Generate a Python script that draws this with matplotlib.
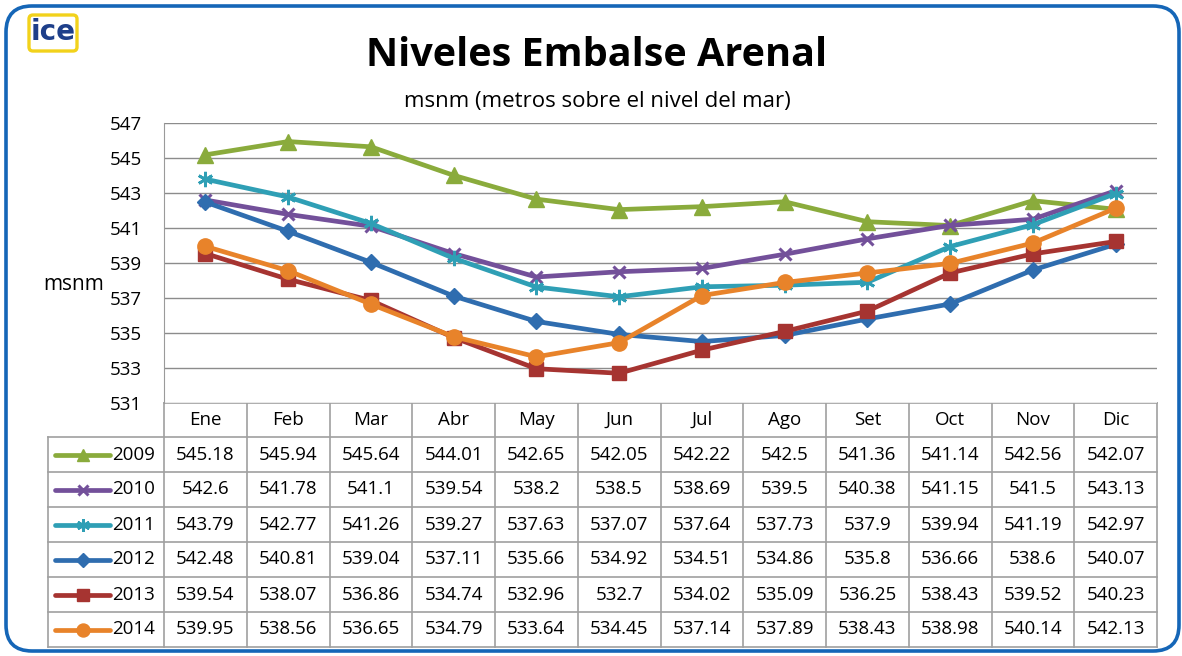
import matplotlib
matplotlib.use("Agg")
import matplotlib.pyplot as plt
from matplotlib.patches import FancyBboxPatch

plt.rcParams['font.family'] = ['Open Sans', 'DejaVu Sans']

months = ["Ene", "Feb", "Mar", "Abr", "May", "Jun", "Jul", "Ago", "Set", "Oct", "Nov", "Dic"]
years = ["2009", "2010", "2011", "2012", "2013", "2014"]
v2009 = [545.18, 545.94, 545.64, 544.01, 542.65, 542.05, 542.22, 542.5, 541.36, 541.14, 542.56, 542.07]
v2010 = [542.6, 541.78, 541.1, 539.54, 538.2, 538.5, 538.69, 539.5, 540.38, 541.15, 541.5, 543.13]
v2011 = [543.79, 542.77, 541.26, 539.27, 537.63, 537.07, 537.64, 537.73, 537.9, 539.94, 541.19, 542.97]
v2012 = [542.48, 540.81, 539.04, 537.11, 535.66, 534.92, 534.51, 534.86, 535.8, 536.66, 538.6, 540.07]
v2013 = [539.54, 538.07, 536.86, 534.74, 532.96, 532.7, 534.02, 535.09, 536.25, 538.43, 539.52, 540.23]
v2014 = [539.95, 538.56, 536.65, 534.79, 533.64, 534.45, 537.14, 537.89, 538.43, 538.98, 540.14, 542.13]
series = [v2009, v2010, v2011, v2012, v2013, v2014]
yticks = [531, 533, 535, 537, 539, 541, 543, 545, 547]

colors = ["#8AAB3C", "#73509A", "#2F9FB5", "#2F6DAF", "#A63431", "#E8832A"]
markers = ["^", "x", (6, 2, 0), "D", "s", "o"]
msizes = [11, 9, 11, 8, 10, 11]
mew = [1, 2.2, 2.0, 1, 1, 1]

W, H = 1182, 656
fig = plt.figure(figsize=(W / 100, H / 100), dpi=100)
fig.patch.set_facecolor("white")

L, R, T, B = 164, 1157, 123, 403
ax = fig.add_axes([L / W, 1 - B / H, (R - L) / W, (B - T) / H])
ax.set_xlim(0, 12)
ax.set_ylim(531, 547)
ax.set_yticks(yticks)
ax.set_yticklabels([str(t) for t in yticks], fontsize=13.5)
ax.set_xticks([])
ax.tick_params(axis="y", length=0, pad=16)
for s in ["top", "right", "bottom"]:
    ax.spines[s].set_visible(False)
ax.spines["left"].set_color("#9a9a9a")
ax.yaxis.grid(True, color="#8c8c8c", linewidth=1)
ax.set_axisbelow(True)
xs = [i + 0.5 for i in range(12)]
for vals, c, m, ms, mw in zip(series, colors, markers, msizes, mew):
    ax.plot(xs, vals, color=c, linewidth=3.4, marker=m, markersize=ms,
            markeredgewidth=mw, markeredgecolor=c, markerfacecolor=c, zorder=3)
ax.set_ylabel("msnm", fontsize=15, rotation=0, labelpad=0, ha="center", va="center")
ax.yaxis.set_label_coords((74 - L) / (R - L), (B - 285) / (B - T))

# overlay in pixel coordinates
ov = fig.add_axes([0, 0, 1, 1], zorder=-1)
ov.set_xlim(0, W)
ov.set_ylim(H, 0)
ov.axis("off")

border = FancyBboxPatch((6, 6), 1173, 645, boxstyle="round,pad=0,rounding_size=26",
                        linewidth=2.6, edgecolor="#1566B7", facecolor="none")
ov.add_patch(border)

# logo
logo = FancyBboxPatch((29, 15), 48, 36, boxstyle="round,pad=0,rounding_size=4",
                      linewidth=2.4, edgecolor="#F2D21B", facecolor="white")
ov.add_patch(logo)
ov.text(53, 32, "ice", fontsize=20, color="#1E3F8A", ha="center", va="center",
        family="DejaVu Sans", fontweight="bold")

fig.text(597 / W, 1 - 55 / H, "Niveles Embalse Arenal", fontsize=28.5, fontweight="bold",
         ha="center", va="center")
fig.text(597 / W, 1 - 101 / H, "msnm (metros sobre el nivel del mar)", fontsize=16,
         ha="center", va="center")

# data table
gc = "#a0a0a0"
fs = 13.5
colw = (R - L) / 12
rows = [437 + 35 * j for j in range(7)]
ov.plot([L, R], [B, B], color=gc, lw=1.2)
for y in rows:
    ov.plot([48, R], [y, y], color=gc, lw=1.2)
for k in range(13):
    x = L + k * colw
    ov.plot([x, x], [B, rows[-1]], color=gc, lw=1.2)
ov.plot([48, 48], [rows[0], rows[-1]], color=gc, lw=1.2)
for i, mth in enumerate(months):
    ov.text(L + (i + 0.5) * colw, (B + rows[0]) / 2, mth, fontsize=fs,
            ha="center", va="center")
for j, (yr, vals, c, m, ms, mw) in enumerate(zip(years, series, colors, markers, msizes, mew)):
    yc = (rows[j] + rows[j + 1]) / 2
    ov.plot([55, 110], [yc, yc], color=c, lw=3.4, solid_capstyle="round")
    ov.plot([82.5], [yc], marker=m, markersize=ms * 0.85, color=c,
            markeredgewidth=mw, markeredgecolor=c)
    ov.text(112, yc, yr, fontsize=fs, ha="left", va="center")
    for i, v in enumerate(vals):
        ov.text(L + (i + 0.5) * colw, yc, f"{v:g}", fontsize=fs,
                ha="center", va="center")

fig.savefig("out.png", dpi=100)
